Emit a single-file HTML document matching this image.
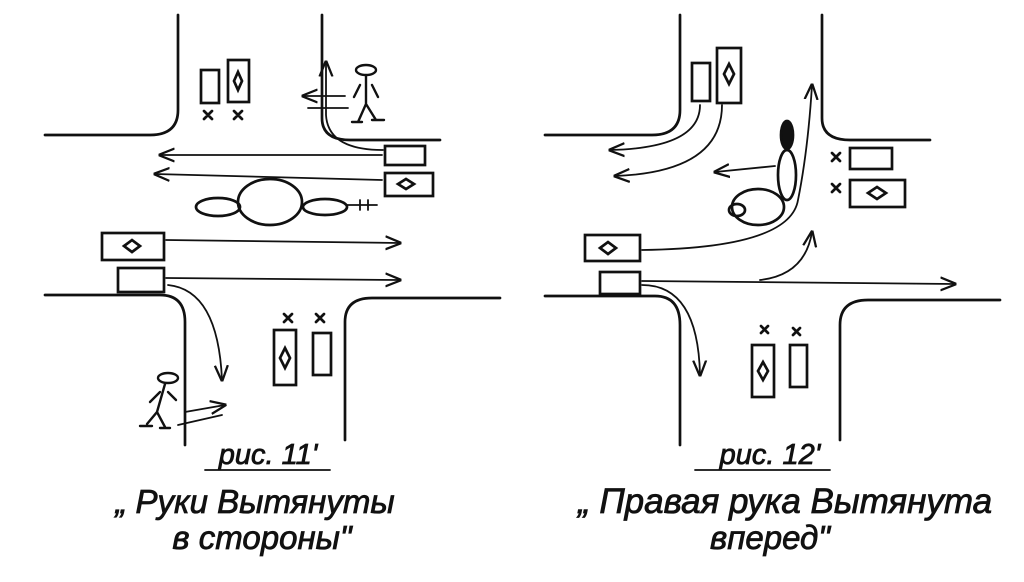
<!DOCTYPE html>
<html><head><meta charset="utf-8"><style>
html,body{margin:0;padding:0;background:#fff;width:1024px;height:582px;overflow:hidden}
svg{display:block}
text{font-family:"Liberation Sans","DejaVu Sans",sans-serif;font-style:italic;fill:#111;stroke:#111;stroke-width:0.8}
</style></head><body>
<svg width="1024" height="582" viewBox="0 0 1024 582" xmlns="http://www.w3.org/2000/svg">
<defs>
<marker id="a" viewBox="0 0 10 10" refX="9" refY="5" markerWidth="9" markerHeight="9" orient="auto-start-reverse"><path d="M0,1 L10,5 L0,9" fill="none" stroke="#111" stroke-width="1.4"/></marker>
</defs>
<g fill="none" stroke="#111" stroke-width="2.7" stroke-linecap="round">
<path d="M178,15 V110 Q178,135 150,135 H45"/>
<path d="M322,15 V118 Q322,140 350,140 H440"/>
<path d="M45,295 H160 Q185,295 185,322 V445"/>
<path d="M345,440 V322 Q345,298 372,298 H500"/>
<rect x="201" y="70" width="18" height="33"/>
<rect x="228" y="60" width="21" height="42"/>
<path d="M238,72 l4,9 -4,9 -4,-9z"/>
<rect x="385" y="146" width="40" height="19"/>
<rect x="385" y="173" width="48" height="23"/>
<path d="M398,184 l8,-5 8,5 -8,5z"/>
<rect x="102" y="233" width="62" height="27"/>
<path d="M124,246 l8,-6 8,6 -8,6z"/>
<rect x="118" y="268" width="46" height="24"/>
<rect x="274" y="330" width="22" height="55"/>
<path d="M285,348 l5,10 -5,10 -5,-10z"/>
<rect x="313" y="333" width="18" height="42"/>
<path d="M204,111 l8,8 M212,111 l-8,8 M234,111 l8,8 M242,111 l-8,8 M284,314 l8,8 M292,314 l-8,8 M316,314 l8,8 M324,314 l-8,8"/>
<g stroke-width="1.8">
<path d="M382,155 H160" marker-end="url(#a)"/>
<path d="M382,180 L155,174" marker-end="url(#a)"/>
<path d="M166,240 L400,243" marker-end="url(#a)"/>
<path d="M166,278 L400,280" marker-end="url(#a)"/>
<path d="M168,285 Q218,290 222,380" marker-end="url(#a)"/>
<path d="M383,150 Q328,150 326,115 V62" marker-end="url(#a)"/>
<path d="M345,96 H303" marker-end="url(#a)"/>
<path d="M308,108 H348"/>
<path d="M185,412 L225,405" marker-end="url(#a)"/>
<path d="M178,425 L222,415"/>
</g>
<ellipse cx="270" cy="202" rx="32" ry="23"/>
<ellipse cx="218" cy="207" rx="22" ry="9"/>
<ellipse cx="325" cy="207" rx="22" ry="8"/>
<path d="M347,205 h30 M360,200 v10 M368,200 v10" stroke-width="1.8"/>
<g stroke-width="2.4">
<ellipse cx="366" cy="70" rx="10" ry="5"/><path d="M366,76 v28 l-8,18 M366,104 l10,16 M360,85 l-6,12 M372,85 l6,12 M352,122 h10 M372,120 h12"/>
<ellipse cx="168" cy="378" rx="10" ry="5"/><path d="M165,384 l-8,28 -10,12 M157,412 l8,15 M160,392 l-10,10 M168,392 l8,8 M140,426 h12 M160,428 h10"/>
</g>
<path d="M680,15 V110 Q680,135 652,135 H545"/>
<path d="M822,15 V118 Q822,140 850,140 H930"/>
<path d="M545,296 H655 Q680,296 680,325 V445"/>
<path d="M840,440 V325 Q840,300 868,300 H1000"/>
<rect x="692" y="63" width="18" height="38"/>
<rect x="717" y="48" width="24" height="55"/>
<path d="M729,64 l5,10 -5,10 -5,-10z"/>
<rect x="850" y="148" width="42" height="21"/>
<rect x="850" y="180" width="55" height="27"/>
<path d="M868,193 l9,-6 9,6 -9,6z"/>
<rect x="585" y="235" width="55" height="26"/>
<path d="M600,248 l8,-6 8,6 -8,6z"/>
<rect x="600" y="272" width="40" height="22"/>
<rect x="752" y="345" width="22" height="52"/>
<path d="M763,362 l5,9 -5,9 -5,-9z"/>
<rect x="790" y="345" width="17" height="42"/>
<path d="M832,153 l8,8 M840,153 l-8,8 M832,184 l8,8 M840,184 l-8,8 M761,326 l7,7 M768,326 l-7,7 M793,328 l7,7 M800,328 l-7,7"/>
<g stroke-width="1.8">
<path d="M700,105 Q700,148 610,150" marker-end="url(#a)"/>
<path d="M722,105 Q722,172 615,176" marker-end="url(#a)"/>
<path d="M642,281 L955,284" marker-end="url(#a)"/>
<path d="M642,285 Q698,285 700,375" marker-end="url(#a)"/>
<path d="M642,250 Q790,248 798,200 Q808,150 812,85" marker-end="url(#a)"/>
<path d="M760,280 Q805,275 812,232" marker-end="url(#a)"/>
<path d="M775,166 L715,172" marker-end="url(#a)"/>
</g>
<ellipse cx="787" cy="135" rx="6" ry="14" fill="#111"/>
<ellipse cx="787" cy="175" rx="9" ry="25"/>
<ellipse cx="758" cy="207" rx="26" ry="18"/>
<ellipse cx="737" cy="210" rx="8" ry="6"/>
<path d="M205,470 H330" stroke-width="1.8"/>
<path d="M695,470 H830" stroke-width="1.8"/>
</g>
<text x="268" y="464" font-size="29" text-anchor="middle">рис. 11'</text>
<text x="255" y="513" font-size="33" text-anchor="middle">„ Руки Вытянуты</text>
<text x="262" y="549" font-size="33" text-anchor="middle">в стороны"</text>
<text x="770" y="464" font-size="29" text-anchor="middle">рис. 12'</text>
<text x="785" y="513" font-size="35" text-anchor="middle">„ Правая рука Вытянута</text>
<text x="770" y="549" font-size="33" text-anchor="middle">вперед"</text>
</svg>
</body></html>
